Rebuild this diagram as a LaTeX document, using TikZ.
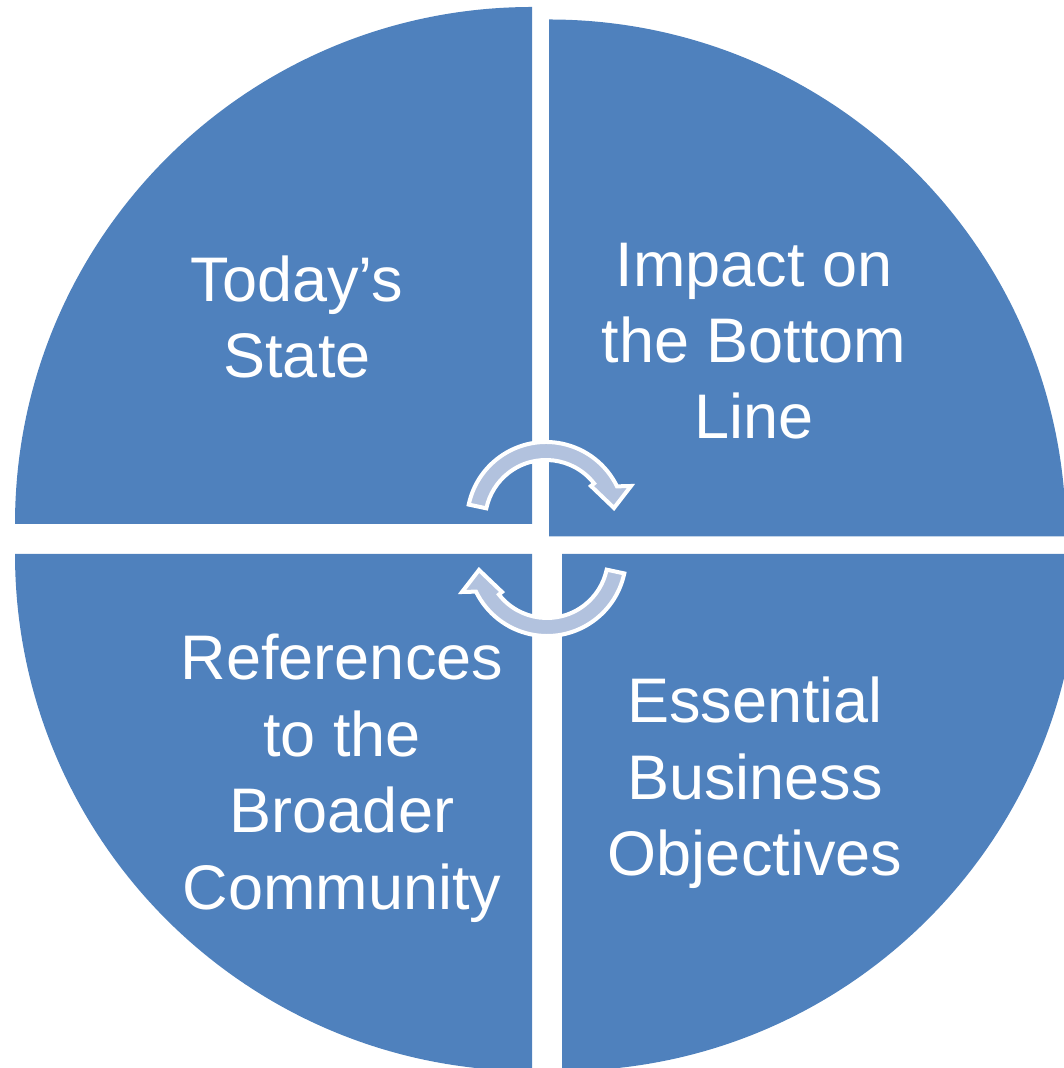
\documentclass[tikz,border=0pt]{standalone}
\usepackage{fontspec}
\setmainfont{Liberation Sans}
\usetikzlibrary{calc}
\definecolor{quadblue}{RGB}{79,129,189}
\definecolor{arrowfill}{RGB}{178,194,222}
\begin{document}
\begin{tikzpicture}[x=1pt,y=1pt,
  quadrant/.style={fill=quadblue, draw=none},
  cyclearrow/.style={fill=arrowfill, draw=white, line width=4pt, line join=miter},
  lbl/.style={text=white, font=\fontsize{63}{76}\selectfont, anchor=base, inner sep=0pt}]
\useasboundingbox (0,0) rectangle (1064,1068);
\clip (0,0) rectangle (1064,1068);
% quadrants
\path[quadrant] (532,544) -- (15,544) arc[start angle=180, end angle=90, radius=517] -- cycle;
\path[quadrant] (549,531.5) -- (549,1048.5) arc[start angle=90, end angle=0, radius=517] -- cycle;
\path[quadrant] (532,514) -- (532,-3) arc[start angle=270, end angle=180, radius=517] -- cycle;
\path[quadrant] (562,514) -- (1079,514) arc[start angle=0, end angle=-90, radius=517] -- cycle;
% circular arrows
\path[cyclearrow] ($(546,547)+(168:79)$) arc[start angle=168, end angle=26, radius=79]
  -- (631,582) -- (614,560) -- (591,582) -- ($(546,547)+(38:61)$)
  arc[start angle=38, end angle=168, radius=61] -- cycle;
\begin{scope}[rotate around={180:(546.5,529)}]
\path[cyclearrow] ($(546,547)+(168:79)$) arc[start angle=168, end angle=26, radius=79]
  -- (631,582) -- (614,560) -- (591,582) -- ($(546,547)+(38:61)$)
  arc[start angle=38, end angle=168, radius=61] -- cycle;
\end{scope}
% texts
\node[lbl] (tl1) at (297,766) {Today’s};
\node[lbl] (tl2) at (297,690) {State};
\node[lbl] (tr1) at (754,781) {Impact on};
\node[lbl] (tr2) at (754,705) {the Bottom};
\node[lbl] (tr3) at (754,629) {Line};
\node[lbl] (bl1) at (342,388) {References};
\node[lbl] (bl2) at (342,311) {to the};
\node[lbl] (bl3) at (342,235) {Broader};
\node[lbl] (bl4) at (342,158) {Community};
\node[lbl] (br1) at (755,345) {Essential};
\node[lbl] (br2) at (755,268) {Business};
\node[lbl] (br3) at (755,192) {Objectives};
\end{tikzpicture}
\end{document}
